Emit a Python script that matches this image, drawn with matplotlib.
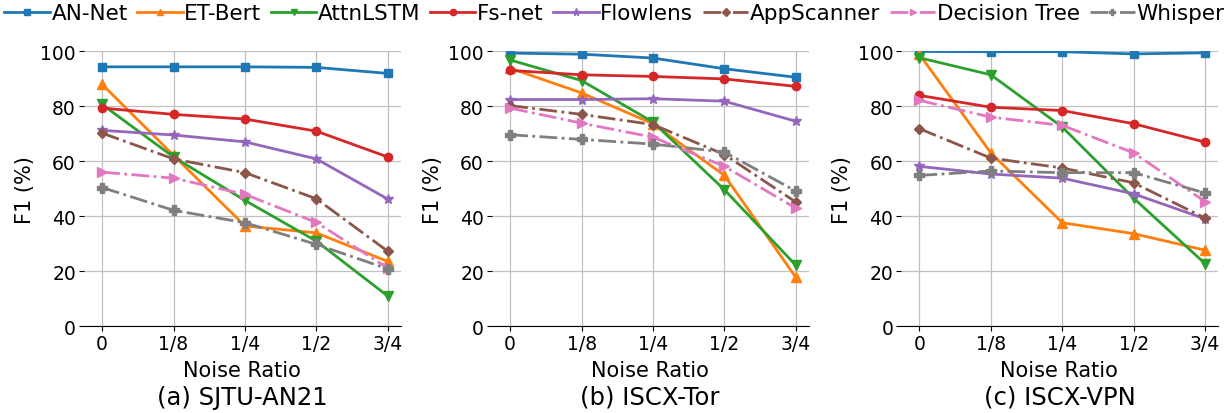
import matplotlib
matplotlib.use("Agg")
import matplotlib.pyplot as plt

x_labels = ["0", "1/8", "1/4", "1/2", "3/4"]
methods = ["AN-Net", "ET-Bert", "AttnLSTM", "Fs-net", "Flowlens",
           "AppScanner", "Decision Tree", "Whisper"]
titles = ["(a) SJTU-AN21", "(b) ISCX-Tor", "(c) ISCX-VPN"]

sjtu_an_net = [94.3, 94.3, 94.3, 94.1, 91.9]
sjtu_et_bert = [87.9, 62.1, 36.4, 33.9, 23.5]
sjtu_attnlstm = [80.6, 61.5, 45.7, 30.9, 10.9]
sjtu_fs_net = [79.3, 77.0, 75.3, 70.9, 61.5]
sjtu_flowlens = [71.2, 69.5, 67.0, 60.8, 46.2]
sjtu_appscanner = [70.2, 60.8, 55.8, 46.3, 27.2]
sjtu_dtree = [56.0, 53.8, 47.9, 37.7, 21.1]
sjtu_whisper = [50.4, 42.1, 37.6, 29.7, 20.8]

tor_an_net = [99.3, 98.9, 97.5, 93.6, 90.5]
tor_et_bert = [93.8, 84.8, 73.6, 54.8, 17.7]
tor_attnlstm = [96.8, 89.3, 74.2, 49.6, 22.1]
tor_fs_net = [93.0, 91.4, 90.8, 89.9, 87.2]
tor_flowlens = [82.4, 82.4, 82.7, 81.8, 74.5]
tor_appscanner = [80.2, 77.0, 73.3, 62.4, 45.1]
tor_dtree = [79.3, 73.8, 68.7, 58.1, 42.9]
tor_whisper = [69.6, 67.9, 66.2, 63.3, 49.1]

vpn_an_net = [99.9, 99.8, 99.8, 99.0, 99.4]
vpn_et_bert = [98.8, 63.0, 37.6, 33.6, 27.6]
vpn_attnlstm = [97.6, 91.4, 72.4, 46.5, 22.7]
vpn_fs_net = [83.9, 79.6, 78.4, 73.6, 66.9]
vpn_flowlens = [58.1, 55.3, 53.8, 48.1, 39.0]
vpn_appscanner = [71.8, 61.1, 57.5, 52.1, 39.3]
vpn_dtree = [82.1, 76.0, 73.0, 63.0, 45.3]
vpn_whisper = [54.8, 56.4, 55.8, 55.8, 48.4]

datasets = [
    [sjtu_an_net, sjtu_et_bert, sjtu_attnlstm, sjtu_fs_net, sjtu_flowlens,
     sjtu_appscanner, sjtu_dtree, sjtu_whisper],
    [tor_an_net, tor_et_bert, tor_attnlstm, tor_fs_net, tor_flowlens,
     tor_appscanner, tor_dtree, tor_whisper],
    [vpn_an_net, vpn_et_bert, vpn_attnlstm, vpn_fs_net, vpn_flowlens,
     vpn_appscanner, vpn_dtree, vpn_whisper],
]

styles = [
    dict(color="#1f77b4", marker="s", linestyle="-", ms=6),
    dict(color="#ff7f0e", marker="^", linestyle="-", ms=6.5),
    dict(color="#2ca02c", marker="v", linestyle="-", ms=6.5),
    dict(color="#d62728", marker="o", linestyle="-", ms=6),
    dict(color="#9467bd", marker="*", linestyle="-", ms=7),
    dict(color="#8c564b", marker="D", linestyle="-.", ms=5.5),
    dict(color="#e377c2", marker=">", linestyle="-.", ms=6.5),
    dict(color="#7f7f7f", marker="P", linestyle="-.", ms=6.5),
]

fig = plt.figure(figsize=(12.29, 4.14), dpi=100)
lefts = [0.068, 0.400, 0.733]
width = 0.258
ax_bottom = 0.210
ax_height = 0.664
axes = []
for i in range(3):
    ax = fig.add_axes([lefts[i], ax_bottom, width, ax_height])
    axes.append(ax)
    xs = list(range(len(x_labels)))
    for j, name in enumerate(methods):
        st = styles[j]
        ax.plot(xs, datasets[i][j], label=name, color=st["color"],
                marker=st["marker"], linestyle=st["linestyle"],
                linewidth=2, markersize=st["ms"])
    ax.set_ylim(0, 100)
    ax.set_xlim(-0.26, 4.18)
    ax.set_yticks([0, 20, 40, 60, 80, 100])
    ax.set_xticks(xs)
    ax.set_xticklabels(x_labels)
    ax.tick_params(labelsize=13.5, pad=2)
    ax.grid(True, color="#c0c0c0", linewidth=0.9)
    ax.set_axisbelow(True)
    for s in ["top", "right", "left"]:
        ax.spines[s].set_visible(False)
    ax.set_ylabel("F1 (%)", fontsize=15, labelpad=4)
    ax.set_xlabel("Noise Ratio", fontsize=15, labelpad=5)
    ax.text(0.5, -0.257, titles[i], transform=ax.transAxes, ha="center",
            va="center", fontsize=17.5)

handles, labels = axes[0].get_legend_handles_labels()
fig.legend(handles, labels, loc="upper center", ncol=8, frameon=False,
           fontsize=15.5, bbox_to_anchor=(0.5, 0.99), handlelength=2.1,
           columnspacing=0.45, handletextpad=0.08, borderaxespad=0.0,
           borderpad=0.0, markerscale=0.75)

fig.savefig("out.png", dpi=100)
